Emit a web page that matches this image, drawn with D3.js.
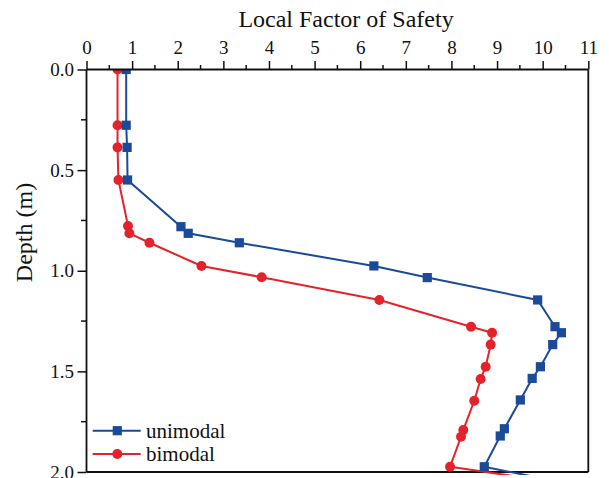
<!DOCTYPE html>
<html>
<head>
<meta charset="utf-8">
<script src="https://cdn.jsdelivr.net/npm/d3@7"></script>
<style>
  html, body { margin: 0; padding: 0; background: #fff; }
  svg { display: block; }
  text { font-family: "Liberation Serif", "Times New Roman", serif; fill: #111; }
</style>
</head>
<body>
<svg id="chart" width="609" height="478"></svg>
<script>
// Depth (m) of each sampled point
const depthUni = [0.0, 0.277, 0.387, 0.549, 0.781, 0.814, 0.861, 0.976, 1.034, 1.145, 1.278, 1.308, 1.367, 1.477, 1.535, 1.642, 1.785, 1.821, 1.974, 2.03];
const depthBi  = [0.0, 0.277, 0.387, 0.549, 0.778, 0.814, 0.861, 0.976, 1.032, 1.145, 1.278, 1.308, 1.367, 1.477, 1.538, 1.646, 1.791, 1.825, 1.974, 2.03];

// Local factor of safety for each suction model
const fsUnimodal = [0.87, 0.87, 0.89, 0.90, 2.07, 2.23, 3.35, 6.30, 7.47, 9.89, 10.27, 10.41, 10.22, 9.95, 9.77, 9.51, 9.16, 9.07, 8.72, 9.95];
const fsBimodal  = [0.68, 0.68, 0.68, 0.70, 0.91, 0.94, 1.38, 2.52, 3.84, 6.42, 8.43, 8.89, 8.86, 8.75, 8.64, 8.50, 8.26, 8.21, 7.97, 9.65];

const xTicks = [0, 1, 2, 3, 4, 5, 6, 7, 8, 9, 10, 11];
const yTicks = [0.0, 0.5, 1.0, 1.5, 2.0];

const seriesNames = ["unimodal", "bimodal"];
const seriesColors = ["#1b4a9a", "#e4222b"];

const svg = d3.select("#chart");
const pLeft = 86.5, pRight = 588.3, pTop = 69.5, pBottom = 472;

const x = d3.scaleLinear().domain([0, 11]).range([pLeft, pRight]);
const y = d3.scaleLinear().domain([0, 2]).range([pTop, pBottom]);

// clip region for the data
svg.append("defs").append("clipPath").attr("id", "plotClip")
  .append("rect").attr("x", pLeft).attr("y", pTop)
  .attr("width", pRight - pLeft).attr("height", pBottom - pTop + 3);

// frame: right and bottom edges
svg.append("line").attr("x1", pRight).attr("x2", pRight).attr("y1", pTop).attr("y2", pBottom)
  .attr("stroke", "#111").attr("stroke-width", 1.8);
svg.append("line").attr("x1", pLeft).attr("x2", pRight).attr("y1", pBottom).attr("y2", pBottom)
  .attr("stroke", "#111").attr("stroke-width", 1.8);

// data lines and markers
const plot = svg.append("g").attr("clip-path", "url(#plotClip)");
const series = [
  { name: seriesNames[0], color: seriesColors[0], xs: fsUnimodal, ys: depthUni, shape: "square" },
  { name: seriesNames[1], color: seriesColors[1], xs: fsBimodal, ys: depthBi, shape: "circle" }
];
const line = d3.line().x(d => x(d[0])).y(d => y(d[1]));

function drawMarker(g, shape, color, cx, cy) {
  if (shape === "square") {
    g.append("rect").attr("x", cx - 4.6).attr("y", cy - 4.6).attr("width", 9.2).attr("height", 9.2)
      .attr("fill", color);
  } else {
    g.append("circle").attr("cx", cx).attr("cy", cy).attr("r", 5).attr("fill", color);
  }
}

// bimodal drawn first, unimodal on top; markers only inside the depth range
[series[1], series[0]].forEach(s => {
  const pts = s.xs.map((v, i) => [v, s.ys[i]]);
  plot.append("path").attr("d", line(pts)).attr("fill", "none")
    .attr("stroke", s.color).attr("stroke-width", 2);
  const mg = plot.append("g");
  pts.filter(p => p[1] <= 2).forEach(p => drawMarker(mg, s.shape, s.color, x(p[0]), y(p[1])));
});

// top axis with minor ticks
const xMinor = d3.range(0.5, 11, 1);
const topAxis = svg.append("g").attr("transform", `translate(0,${pTop})`);
topAxis.call(d3.axisTop(x).tickValues(xTicks).tickSize(8.5).tickPadding(7.5).tickFormat(d3.format("d")));
topAxis.append("g").selectAll("line").data(xMinor).join("line")
  .attr("x1", d => x(d)).attr("x2", d => x(d)).attr("y1", 0).attr("y2", -4.5)
  .attr("stroke", "#111").attr("stroke-width", 1.5);
topAxis.select(".domain").attr("d", `M${pLeft},0H${pRight}`).attr("stroke", "#111").attr("stroke-width", 1.8);
topAxis.selectAll(".tick line").attr("stroke", "#111").attr("stroke-width", 1.5);
topAxis.selectAll(".tick text").attr("font-size", 19).attr("font-family", "Liberation Serif").attr("fill", "#111");

// left axis with minor ticks
const yMinor = [0.25, 0.75, 1.25, 1.75];
const leftAxis = svg.append("g").attr("transform", `translate(${pLeft},0)`);
leftAxis.call(d3.axisLeft(y).tickValues(yTicks).tickSize(9).tickPadding(3.5).tickFormat(d3.format(".1f")));
leftAxis.append("g").selectAll("line").data(yMinor).join("line")
  .attr("y1", d => y(d)).attr("y2", d => y(d)).attr("x1", 0).attr("x2", -5.5)
  .attr("stroke", "#111").attr("stroke-width", 1.5);
leftAxis.select(".domain").attr("d", `M0,${pTop}V${pBottom}`).attr("stroke", "#111").attr("stroke-width", 1.8);
leftAxis.selectAll(".tick line").attr("stroke", "#111").attr("stroke-width", 1.5);
leftAxis.selectAll(".tick text").attr("font-size", 19).attr("font-family", "Liberation Serif").attr("fill", "#111");

// axis titles
svg.append("text").attr("x", 346).attr("y", 27).attr("text-anchor", "middle")
  .attr("font-size", 24).text("Local Factor of Safety");
svg.append("text").attr("transform", "translate(31.5,232.5) rotate(-90)")
  .attr("text-anchor", "middle")
  .attr("font-size", 24).text("Depth (m)");

// legend
const legend = svg.append("g");
series.forEach((s, i) => {
  const ly = 430.7 + i * 23.3;
  legend.append("line").attr("x1", 92.7).attr("x2", 140.7).attr("y1", ly).attr("y2", ly)
    .attr("stroke", s.color).attr("stroke-width", 2);
  drawMarker(legend, s.shape, s.color, 117.3, ly);
  legend.append("text").attr("x", 146).attr("y", ly).attr("dy", "0.33em")
    .attr("font-size", 21).text(s.name);
});
</script>
</body>
</html>
